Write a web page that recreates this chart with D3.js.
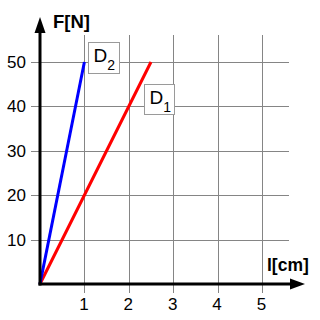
<!DOCTYPE html>
<html>
<head>
<meta charset="utf-8">
<script src="https://cdn.jsdelivr.net/npm/d3@7"></script>
<style>
  body { margin: 0; background: #fff; }
  text { font-family: "Liberation Sans", Arial, sans-serif; }
</style>
</head>
<body>
<div id="chart"></div>
<script>
// data
const xTicks = [1, 2, 3, 4, 5]
const yTicks = [10, 20, 30, 40, 50]
const lineNames = ["D1", "D2"]
const lineColors = ["#ff0000", "#0000ff"]
const d1Points = [[0, 0], [2.5, 50]]
const d2Points = [[0, 0], [1, 50]]
const xLabel = "l[cm]"
const yLabel = "F[N]"

const width = 320
const height = 320

const svg = d3.select("#chart")
    .append("svg")
    .attr("width", width)
    .attr("height", height)

const xScale = d3.scaleLinear()
    .domain([0, 5.6])
    .range([40, 288.6])
const yScale = d3.scaleLinear()
    .domain([0, 56])
    .range([284, 35.4])

// grid
const grid = svg.append("g")
    .attr("stroke", "#858585")
    .attr("stroke-width", 1)
    .attr("shape-rendering", "crispEdges")

grid.selectAll(".v")
    .data(xTicks)
    .join("line")
    .attr("x1", d => Math.round(xScale(d)) + 0.5)
    .attr("x2", d => Math.round(xScale(d)) + 0.5)
    .attr("y1", yScale(56))
    .attr("y2", yScale(0) + 9)

grid.selectAll(".h")
    .data(yTicks)
    .join("line")
    .attr("y1", d => Math.round(yScale(d)) + 0.5)
    .attr("y2", d => Math.round(yScale(d)) + 0.5)
    .attr("x1", xScale(0) - 9)
    .attr("x2", xScale(5.6))

// tick labels
svg.append("g")
    .selectAll("text")
    .data(yTicks)
    .join("text")
    .attr("x", 26)
    .attr("y", d => yScale(d) + 6)
    .attr("text-anchor", "end")
    .style("font-size", "17px")
    .text(d => d)

svg.append("g")
    .selectAll("text")
    .data(xTicks)
    .join("text")
    .attr("x", d => xScale(d) - 0.5)
    .attr("y", 309.5)
    .attr("text-anchor", "middle")
    .style("font-size", "17px")
    .text(d => d)

// lines
const line = d3.line()
    .x(d => xScale(d[0]))
    .y(d => yScale(d[1]))

svg.selectAll(".series")
    .data([d1Points, d2Points])
    .join("path")
    .attr("d", line)
    .attr("fill", "none")
    .attr("stroke", (d, i) => lineColors[i])
    .attr("stroke-width", 3)

// axes with arrows
const ox = xScale(0)
const oy = yScale(0)
svg.append("line")
    .attr("x1", ox).attr("y1", oy + 1.5)
    .attr("x2", ox).attr("y2", 30)
    .attr("stroke", "#000").attr("stroke-width", 3)
svg.append("line")
    .attr("x1", ox - 1.5).attr("y1", oy)
    .attr("x2", 293).attr("y2", oy)
    .attr("stroke", "#000").attr("stroke-width", 3)
svg.append("path")
    .attr("d", `M${ox},17 L${ox + 5.5},33 L${ox - 5.5},33 Z`)
    .attr("fill", "#000")
svg.append("path")
    .attr("d", `M305,${oy} L290,${oy - 5.5} L290,${oy + 5.5} Z`)
    .attr("fill", "#000")

// axis titles
svg.append("text")
    .attr("x", 53)
    .attr("y", 28)
    .style("font-size", "18.5px")
    .style("font-weight", "bold")
    .text(yLabel)
svg.append("text")
    .attr("x", 267)
    .attr("y", 271)
    .style("font-size", "17.5px")
    .style("font-weight", "bold")
    .text(xLabel)

// line labels in boxes
const labelBoxes = [
    { name: lineNames[1], x: 88.5, y: 42.5, w: 31, h: 31 },
    { name: lineNames[0], x: 144.5, y: 84.5, w: 30, h: 30 },
]

const labels = svg.selectAll(".lbl")
    .data(labelBoxes)
    .join("g")

labels.append("rect")
    .attr("x", d => d.x)
    .attr("y", d => d.y)
    .attr("width", d => d.w)
    .attr("height", d => d.h)
    .attr("fill", "#fff")
    .attr("stroke", "#9a9a9a")
    .attr("stroke-width", 1)

const lt = labels.append("text")
    .attr("x", d => d.x + 5)
    .attr("y", d => d.y + 19)
    .style("font-size", "19px")
lt.append("tspan").text(d => d.name[0])
lt.append("tspan")
    .attr("dy", 8)
    .style("font-size", "14px")
    .text(d => d.name.slice(1))
</script>
</body>
</html>
